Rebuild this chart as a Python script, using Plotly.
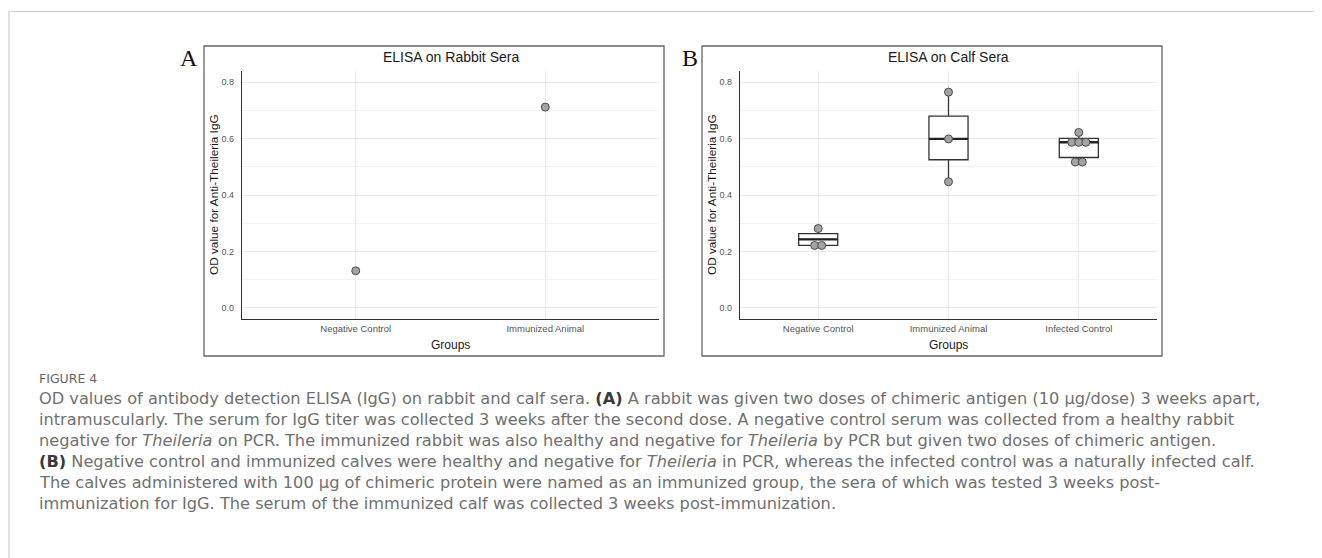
import plotly.graph_objects as go
from collections import Counter

# page body has an 8px margin, so the figure is drawn 8px in from the window corner
OFF = 8
W, H = 1322 - OFF, 558 - OFF

# ---------------- data ----------------
rabbit_groups = ["Negative Control", "Immunized Animal"]
rabbit_od = [0.131, 0.712]

calf_groups = ["Negative Control", "Immunized Animal", "Infected Control"]
calf_neg_points = [0.281, 0.221, 0.221]
calf_imm_points = [0.765, 0.599, 0.447]
calf_inf_points = [0.622, 0.587, 0.587, 0.587, 0.517, 0.517]

calf_lowerfence = [0.221, 0.447, 0.517]
calf_q1 = [0.221, 0.525, 0.533]
calf_median = [0.2425, 0.599, 0.587]
calf_q3 = [0.263, 0.680, 0.601]
calf_upperfence = [0.281, 0.765, 0.622]

y_ticks = [0.0, 0.2, 0.4, 0.6, 0.8]
y_ticklabels = ["0.0", "0.2", "0.4", "0.6", "0.8"]

# ---------------- helpers (window pixel -> paper) ----------------
def px(x):
    return (x - OFF) / W

def py(y):
    return 1 - (y - OFF) / H

AXFONT = "Liberation Sans, Arial, sans-serif"
CAPFONT = "DejaVu Sans, sans-serif"
SERIF = "Liberation Serif, Times New Roman, serif"
DOT_FILL = "#a3a3a3"
DOT_LINE = "#4d4d4d"
BOX_W = 0.3

fig = go.Figure()

# panel A points
xa = list(range(1, len(rabbit_groups) + 1))
fig.add_trace(go.Scatter(
    x=xa, y=rabbit_od, mode="markers", xaxis="x", yaxis="y",
    marker=dict(size=8, color=DOT_FILL, line=dict(color=DOT_LINE, width=1)),
    showlegend=False, hoverinfo="y"))

# panel B boxes
xb = list(range(1, len(calf_groups) + 1))
fig.add_trace(go.Box(
    x=xb, q1=calf_q1, median=calf_median, q3=calf_q3,
    lowerfence=calf_lowerfence, upperfence=calf_upperfence,
    xaxis="x2", yaxis="y2", width=BOX_W, whiskerwidth=0,
    fillcolor="white", line=dict(color="#333333", width=1.3),
    boxpoints=False, showlegend=False))

# thicker median segments (ggplot style)
mx, my = [], []
for xi, m in zip(xb, calf_median):
    mx += [xi - BOX_W / 2, xi + BOX_W / 2, None]
    my += [m, m, None]
fig.add_trace(go.Scatter(x=mx, y=my, mode="lines", xaxis="x2", yaxis="y2",
                         line=dict(color="#222222", width=2.4), showlegend=False, hoverinfo="skip"))

# panel B dots (centered stacking of equal values, like a dotplot)
dot_w = 0.054
for gi, pts in enumerate([calf_neg_points, calf_imm_points, calf_inf_points]):
    counts = Counter(pts)
    xs, ys = [], []
    for v, n in counts.items():
        for k in range(n):
            xs.append(gi + 1 + (k - (n - 1) / 2) * dot_w)
            ys.append(v)
    fig.add_trace(go.Scatter(
        x=xs, y=ys, mode="markers", xaxis="x2", yaxis="y2",
        marker=dict(size=8, color=DOT_FILL, line=dict(color=DOT_LINE, width=1)),
        showlegend=False, hoverinfo="y"))

yaxis_common = dict(
    range=[-0.04, 0.84], tickvals=y_ticks, ticktext=y_ticklabels,
    showgrid=True, gridcolor="#ebebeb", gridwidth=1,
    minor=dict(showgrid=True, gridcolor="#f2f2f2", gridwidth=0.6, dtick=0.1, tick0=0.0),
    zeroline=False, showline=True, linecolor="#333333", linewidth=1.3,
    ticks="", ticklabelstandoff=5, tickfont=dict(family=AXFONT, size=9, color="#555555"),
    fixedrange=True,
)
xaxis_common = dict(
    showgrid=True, gridcolor="#ebebeb", gridwidth=1, zeroline=False,
    showline=True, linecolor="#333333", linewidth=1.3, ticks="",
    tickfont=dict(family=AXFONT, size=9.5, color="#555555"), fixedrange=True,
)

y_dom = [py(319), py(71)]
fig.update_layout(
    width=W, height=H, margin=dict(l=0, r=0, t=0, b=0),
    paper_bgcolor="white", plot_bgcolor="white",
    xaxis=dict(domain=[px(242), px(659)], range=[0.4, 2.6],
               tickvals=xa, ticktext=rabbit_groups, anchor="y", **xaxis_common),
    yaxis=dict(domain=y_dom, anchor="x", **yaxis_common),
    xaxis2=dict(domain=[px(740), px(1157)], range=[0.4, 3.6],
                tickvals=xb, ticktext=calf_groups, anchor="y2", **xaxis_common),
    yaxis2=dict(domain=y_dom, anchor="x2", **yaxis_common),
)

shapes = []
# outer frame lines
shapes.append(dict(type="line", xref="paper", yref="paper", x0=px(9), x1=1, y0=py(11.5), y1=py(11.5),
                   line=dict(color="#cccccc", width=1.2)))
shapes.append(dict(type="line", xref="paper", yref="paper", x0=px(9), x1=px(9), y0=py(11.5), y1=0,
                   line=dict(color="#cccccc", width=1.2)))
# panel borders
for x0, x1 in [(204, 664), (702, 1162)]:
    shapes.append(dict(type="rect", xref="paper", yref="paper", x0=px(x0), x1=px(x1),
                       y0=py(356), y1=py(46), line=dict(color="#666666", width=1.3),
                       fillcolor="rgba(0,0,0,0)", layer="below"))
fig.update_layout(shapes=shapes)

def note(text, x, y, size, color, family=AXFONT, angle=0, xanchor="center"):
    return dict(text=text, x=px(x), y=py(y), xref="paper", yref="paper", showarrow=False,
                xanchor=xanchor, yanchor="middle", textangle=angle,
                font=dict(family=family, size=size, color=color))

ann = []
# panel letters
ann.append(note("A", 188.5, 58, 24, "#111111", family=SERIF))
ann.append(note("B", 690, 58, 24, "#111111", family=SERIF))
# titles and x titles
for cx, t in [((242 + 659) / 2, "ELISA on Rabbit Sera"), ((740 + 1157) / 2, "ELISA on Calf Sera")]:
    ann.append(note(t, cx, 57, 14, "#1a1a1a"))
    ann.append(note("Groups", cx, 345, 12, "#1a1a1a"))
# y titles
for cx in [214, 712]:
    ann.append(note("OD value for Anti-Theileria IgG", cx, 195, 11.8, "#1a1a1a", angle=-90))

# caption
ann.append(note("FIGURE 4", 37, 378, 12.5, "#666666", family=CAPFONT, xanchor="left"))
B = '<span style="color:#3a3a3a"><b>%s</b></span>'
caption_lines = [
    "OD values of antibody detection ELISA (IgG) on rabbit and calf sera. " + B % "(A)" +
    " A rabbit was given two doses of chimeric antigen (10 µg/dose) 3 weeks apart,",
    "intramuscularly. The serum for IgG titer was collected 3 weeks after the second dose. "
    "A negative control serum was collected from a healthy rabbit",
    "negative for <i>Theileria</i> on PCR. The immunized rabbit was also healthy and negative for "
    "<i>Theileria</i> by PCR but given two doses of chimeric antigen.",
    B % "(B)" + " Negative control and immunized calves were healthy and negative for <i>Theileria</i> "
    "in PCR, whereas the infected control was a naturally infected calf.",
    "The calves administered with 100 µg of chimeric protein were named as an immunized group, "
    "the sera of which was tested 3 weeks post-",
    "immunization for IgG. The serum of the immunized calf was collected 3 weeks post-immunization.",
]
for i, line in enumerate(caption_lines):
    ann.append(note(line, 37, 398 + i * 21, 16.2, "#707070", family=CAPFONT, xanchor="left"))
fig.update_layout(annotations=ann)

fig.write_html("out.html")
